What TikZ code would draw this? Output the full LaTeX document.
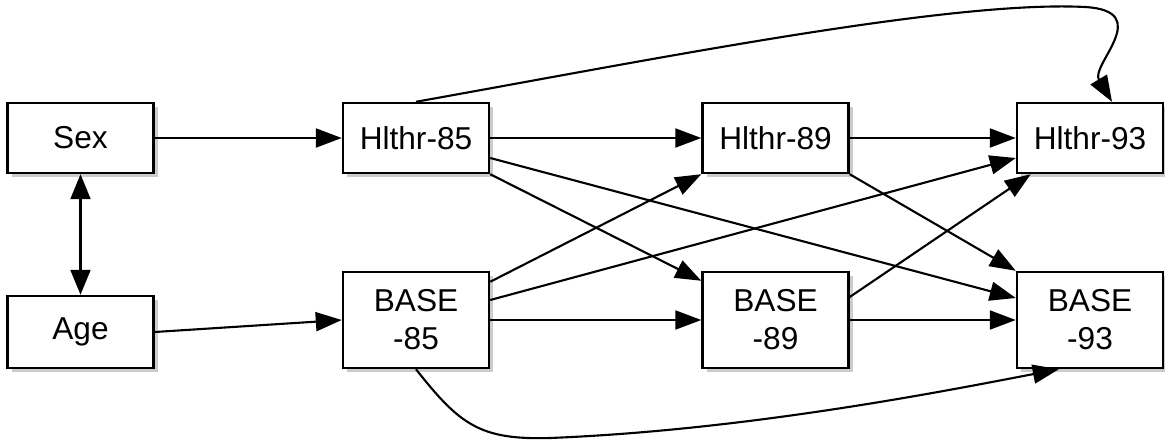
\documentclass[tikz,border=0pt]{standalone}
\usepackage{fontspec}
\setmainfont{Liberation Sans}
\usetikzlibrary{arrows.meta, shadows}

\begin{document}
\begin{tikzpicture}[
    box/.style={draw,line width=1.4pt,fill=white,minimum width=2.92cm,minimum height=1.4cm,
                align=center,font=\fontsize{18}{21.6}\selectfont,inner sep=0pt,
                drop shadow={shadow xshift=2.5pt,shadow yshift=-2.5pt,opacity=0.4}},
    tall/.style={minimum height=1.92cm},
    arr/.style={-{Triangle[length=0.52cm,width=0.38cm]},line width=1.2pt},
    dbl/.style={{Triangle[length=0.5cm,width=0.4cm]}-{Triangle[length=0.5cm,width=0.4cm]},line width=1.2pt}
]
  \useasboundingbox (0,0) rectangle (23.3,-8.8);

  % Boxes
  \node[box] (sex) at (1.61,-2.76) {Sex};
  \node[box,minimum height=1.44cm] (age) at (1.61,-6.64) {Age};
  \node[box] (h85) at (8.32,-2.76) {Hlthr-85};
  \node[box,tall] (b85) at (8.32,-6.4) {BASE\\-85};
  \node[box] (h89) at (15.51,-2.76) {Hlthr-89};
  \node[box,tall] (b89) at (15.51,-6.4) {BASE\\-89};
  \node[box] (h93) at (21.8,-2.76) {Hlthr-93};
  \node[box,tall] (b93) at (21.8,-6.4) {BASE\\-93};

  % Arrows
  \draw[dbl] (sex) -- (age);
  \draw[arr] (sex) -- (h85);
  \draw[arr] (age.east) -- (b85.west);
  \draw[arr] (h85) -- (h89);
  \draw[arr] (h85.south east) -- ([yshift=-0.2cm]b89.north west);
  \draw[arr] ([yshift=-0.4cm]h85.east) -- ([yshift=0.44cm]b93.west);
  \draw[arr] ([yshift=-0.22cm]b85.north east) -- (h89.south west);
  \draw[arr] ([yshift=0.4cm]b85.east) -- ([yshift=-0.4cm]h93.west);
  \draw[arr] (b85) -- (b89);
  \draw[arr] (h89) -- (h93);
  \draw[arr] (h89.south east) -- (b93.north west);
  \draw[arr] ([yshift=0.46cm]b89.east) -- ([xshift=0.3cm]h93.south west);
  \draw[arr] (b89) -- (b93);

  % Long curves
  \draw[arr] (h85.north) .. controls (13,-1.2) and (19,0) .. (21.7,-0.14)
             .. controls (23.1,-0.22) and (21.8,-1.3) .. ([xshift=0.44cm]h93.north);
  \draw[arr] (b85.south) .. controls (9.2,-8.5) and (9.6,-8.8) .. (11,-8.76)
             .. controls (15,-8.6) and (19,-7.8) .. ([xshift=0.86cm]b93.south west);
\end{tikzpicture}
\end{document}
